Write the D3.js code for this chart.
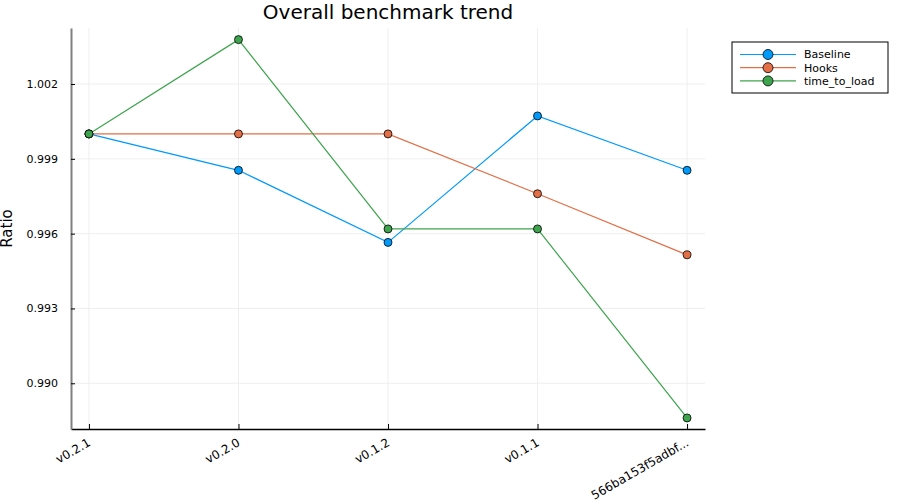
<!DOCTYPE html>
<html>
<head>
<meta charset="utf-8">
<script src="https://cdn.jsdelivr.net/npm/d3@7"></script>
<style>
  body { margin: 0; background: #fff; }
  text { font-family: "DejaVu Sans", sans-serif; }
</style>
</head>
<body>
<div id="chart-area"></div>
<script>
// data
var versions = ['v0.2.1', 'v0.2.0', 'v0.1.2', 'v0.1.1', '566ba153f5adbf...'];
var baseline = [1.0, 0.99854, 0.99565, 1.00072, 0.99854];
var hooks = [1.0, 1.0, 1.0, 0.99760, 0.99515];
var timeToLoad = [1.0, 1.00378, 0.99619, 0.99619, 0.98861];
var yTicks = [0.990, 0.993, 0.996, 0.999, 1.002];

var seriesNames = ['Baseline', 'Hooks', 'time_to_load'];
var seriesColors = ['#009AFA', '#E36F47', '#3EA44E'];
var series = [baseline, hooks, timeToLoad].map((vals, i) => {
    return { name: seriesNames[i], color: seriesColors[i], values: vals }
});

var W = 900, H = 500;
var plotLeft = 71, plotRight = 705, plotTop = 28, plotBottom = 429;

var svg = d3.select('#chart-area')
    .append('svg')
        .attr('width', W)
        .attr('height', H);

var x = d3.scaleLinear()
    .domain([-0.12, versions.length - 1 + 0.12])
    .range([plotLeft, plotRight]);

var y = d3.scaleLinear()
    .domain([0.988167, 1.004246])
    .range([plotBottom, plotTop]);

// grid
var grid = svg.append('g').attr('class', 'grid');
grid.selectAll('.vgrid').data(versions)
    .enter().append('line')
    .attr('x1', (d, i) => x(i)).attr('x2', (d, i) => x(i))
    .attr('y1', plotTop).attr('y2', plotBottom)
    .attr('stroke', '#ebebeb').attr('stroke-width', 0.8);
grid.selectAll('.hgrid').data(yTicks)
    .enter().append('line')
    .attr('x1', plotLeft).attr('x2', plotRight)
    .attr('y1', (d) => y(d)).attr('y2', (d) => y(d))
    .attr('stroke', '#ebebeb').attr('stroke-width', 0.8);

// X axis
var xAxisCall = d3.axisBottom(x)
    .tickValues(d3.range(versions.length))
    .tickFormat((d) => versions[d])
    .tickSizeInner(-5)
    .tickSizeOuter(0);
var xAxis = svg.append('g')
    .attr('class', 'bottom axis')
    .attr('transform', 'translate(0,' + plotBottom + ')')
    .call(xAxisCall);
xAxis.select('.domain').attr('stroke', '#000').attr('stroke-width', 1.3);
xAxis.selectAll('.tick line').attr('stroke', '#000');
xAxis.selectAll('.tick text')
    .attr('font-size', '12px')
    .attr('fill', '#000')
    .attr('text-anchor', 'end')
    .attr('dy', null)
    .attr('y', 0)
    .attr('transform', 'translate(2,16) rotate(-30)');

// Y axis
var yAxisCall = d3.axisLeft(y)
    .tickValues(yTicks)
    .tickFormat(d3.format('.3f'))
    .tickSizeInner(-4)
    .tickSizeOuter(0)
    .tickPadding(13);
var yAxis = svg.append('g')
    .attr('class', 'left axis')
    .attr('transform', 'translate(' + plotLeft + ',0)')
    .call(yAxisCall);
yAxis.select('.domain').attr('stroke', '#808080').attr('stroke-width', 2);
yAxis.selectAll('.tick line').attr('stroke', '#000');
yAxis.selectAll('.tick text')
    .attr('font-size', '11px')
    .attr('fill', '#000');

// lines + markers
var line = d3.line()
    .x((d, i) => x(i))
    .y((d) => y(d));

series.forEach((s) => {
    svg.append('path')
        .datum(s.values)
        .attr('fill', 'none')
        .attr('stroke', s.color)
        .attr('stroke-width', 1.2)
        .attr('d', line);
});
series.forEach((s) => {
    svg.append('g').selectAll('circle').data(s.values)
        .enter().append('circle')
        .attr('cx', (d, i) => x(i))
        .attr('cy', (d) => y(d))
        .attr('r', 4)
        .attr('fill', s.color)
        .attr('stroke', '#000')
        .attr('stroke-width', 0.8);
});

// title
svg.append('text')
    .attr('x', (plotLeft + plotRight) / 2)
    .attr('y', 19)
    .attr('font-size', '20px')
    .attr('text-anchor', 'middle')
    .text('Overall benchmark trend');

// Y axis label
svg.append('text')
    .attr('x', -(plotTop + plotBottom) / 2)
    .attr('y', 12)
    .attr('font-size', '15px')
    .attr('text-anchor', 'middle')
    .attr('transform', 'rotate(-90)')
    .text('Ratio');

// legend
var legend = svg.append('g').attr('transform', 'translate(732,42)');
legend.append('rect')
    .attr('width', 156).attr('height', 51)
    .attr('fill', '#fff')
    .attr('stroke', '#000').attr('stroke-width', 1);
var items = legend.selectAll('.item').data(series)
    .enter().append('g')
    .attr('transform', (d, i) => 'translate(0,' + (12.5 + i * 13.2) + ')');
items.append('line')
    .attr('x1', 8).attr('x2', 64)
    .attr('stroke', (d) => d.color).attr('stroke-width', 1.2);
items.append('circle')
    .attr('cx', 36).attr('r', 5)
    .attr('fill', (d) => d.color)
    .attr('stroke', '#000').attr('stroke-width', 0.8);
items.append('text')
    .attr('x', 72).attr('dy', '0.35em')
    .attr('font-size', '11px')
    .text((d) => d.name);
</script>
</body>
</html>
